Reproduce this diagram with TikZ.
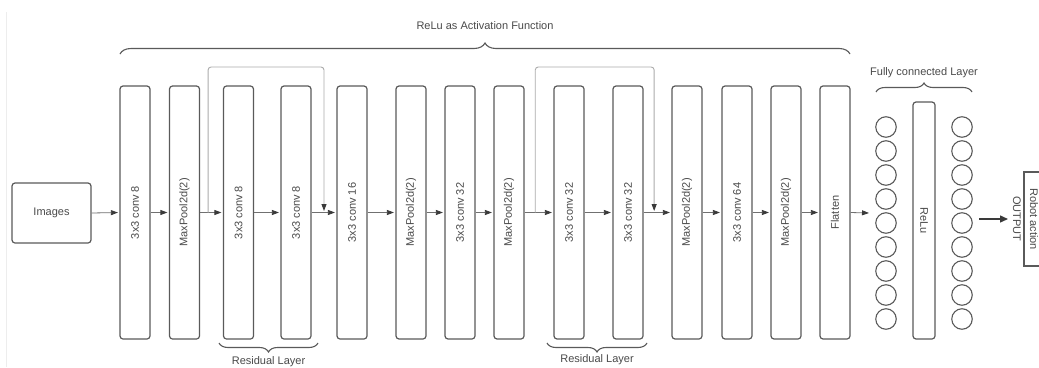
\documentclass[tikz,border=0pt]{standalone}
\usepackage{fontspec}
\setmainfont{Liberation Sans}
\usetikzlibrary{arrows.meta,decorations.pathreplacing,calc}
\definecolor{boxline}{HTML}{5A5A5A}
\definecolor{txt}{HTML}{4A4A4A}
\definecolor{flowline}{HTML}{707070}
\definecolor{tip}{HTML}{3A3A3A}
\definecolor{skipline}{HTML}{ABABAB}
\tikzset{
  layerbox/.style={draw=boxline, line width=1.2pt, rounded corners=3pt,
    minimum width=30pt, minimum height=253pt, inner sep=0pt},
  boxtext/.style={text=txt, font=\fontsize{11}{13}\selectfont, inner sep=0pt},
  flow/.style={draw=flowline, line width=0.8pt,
    -{Triangle[length=7pt,width=5pt,color=tip]}, shorten >=1.5pt},
  skipflow/.style={draw=skipline, line width=0.9pt, rounded corners=3pt,
    -{Triangle[length=7pt,width=5pt,color=tip]}},
  neuron/.style={draw=boxline, line width=1.1pt, circle, minimum size=20.5pt, inner sep=0pt},
  bracepath/.style={draw=boxline, line width=1.1pt, decorate},
  labeltext/.style={text=txt, font=\fontsize{11}{13}\selectfont, inner sep=0pt}
}
\begin{document}
\begin{tikzpicture}[x=1pt,y=-1pt]
\useasboundingbox (0,0) rectangle (1039,367);
\clip (0,0) rectangle (1039,367);
\fill[white] (0,0) rectangle (1039,367);
\draw[gray!14, line width=0.8pt] (6.5,12) -- (6.5,367);

% input
\node[draw=boxline, line width=1.2pt, rounded corners=3pt, minimum width=79pt,
  minimum height=60pt, inner sep=0pt] (img) at (51.5,213) {};
\node[boxtext] at (img) {Images};

% convolutional stack
\foreach \n/\x/\t in {b1/135/3x3 conv 8, b2/184.5/MaxPool2d(2), b3/238.5/3x3 conv 8,
    b4/296/3x3 conv 8, b5/352/3x3 conv 16, b6/411/MaxPool2d(2), b7/460/3x3 conv 32,
    b8/509/MaxPool2d(2), b9/569/3x3 conv 32, b10/628/3x3 conv 32, b11/687/MaxPool2d(2),
    b12/737/3x3 conv 64, b13/786/MaxPool2d(2), b14/835/Flatten} {
  \node[layerbox] (\n) at (\x,212.5) {};
  \node[boxtext, rotate=90] at (\n) {\t};
}

\draw[flow] (img.east) -- (b1.west);
\foreach \a/\b in {b1/b2, b2/b3, b3/b4, b4/b5, b5/b6, b6/b7, b7/b8, b8/b9,
    b9/b10, b10/b11, b11/b12, b12/b13, b13/b14}
  \draw[flow] (\a.east) -- (\b.west);

% residual skip connections
\path (0,67) coordinate (skiptop);
\coordinate (s1a) at ($(b2.east)!0.35!(b3.west)$);
\coordinate (s1b) at ($(b4.east)!0.5!(b5.west)$);
\coordinate (s2a) at ($(b8.east)!0.37!(b9.west)$);
\coordinate (s2b) at ($(b10.east)!0.38!(b11.west)$);
\draw[skipflow] (s1a) -- (s1a |- skiptop) -- (s1b |- skiptop) -- ($(s1b)+(0,-1.5)$);
\draw[skipflow] (s2a) -- (s2a |- skiptop) -- (s2b |- skiptop) -- ($(s2b)+(0,-1.5)$);

% fully connected layer
\foreach \i in {1,...,9} {
  \node[neuron] (fa\i) at (886,{127+24*(\i-1)}) {};
  \node[neuron] (fb\i) at (962,{127+24*(\i-1)}) {};
}
\node[layerbox, minimum width=22pt, minimum height=237pt] (relu) at (924,220.5) {};
\node[boxtext, rotate=-90] at (relu) {ReLu};
\coordinate (fcin) at (869,213);
\draw[flow, shorten >=0pt] (b14.east) -- (fcin);

% output
\coordinate (outa) at (979,219);
\coordinate (outb) at (1008,219);
\draw[draw=tip, line width=1.4pt, -{Triangle[length=8pt,width=7pt]}] (outa) -- (outb);
\node[draw=boxline, line width=1.2pt, minimum width=40pt, minimum height=94pt,
  inner sep=0pt] (out) at (1044,219) {};
\node[boxtext, rotate=-90, align=center, font=\fontsize{11}{17}\selectfont]
  at (1025.5,219) {Robot action\\OUTPUT};

% braces and their labels
\draw[bracepath, decoration={brace, amplitude=11pt}] (120,54) -- (850,54)
  node[labeltext, pos=0.5, yshift=28pt] {ReLu as Activation Function};
\draw[bracepath, decoration={brace, amplitude=9pt}] (876,92) -- (972,92)
  node[labeltext, pos=0.5, yshift=19pt] {Fully connected Layer};
\draw[bracepath, decoration={brace, amplitude=9pt}] (318,343) -- (219,343)
  node[labeltext, pos=0.5, yshift=-19pt] {Residual Layer};
\draw[bracepath, decoration={brace, amplitude=9pt}] (647,343) -- (547,343)
  node[labeltext, pos=0.5, yshift=-17pt] {Residual Layer};
\end{tikzpicture}
\end{document}
